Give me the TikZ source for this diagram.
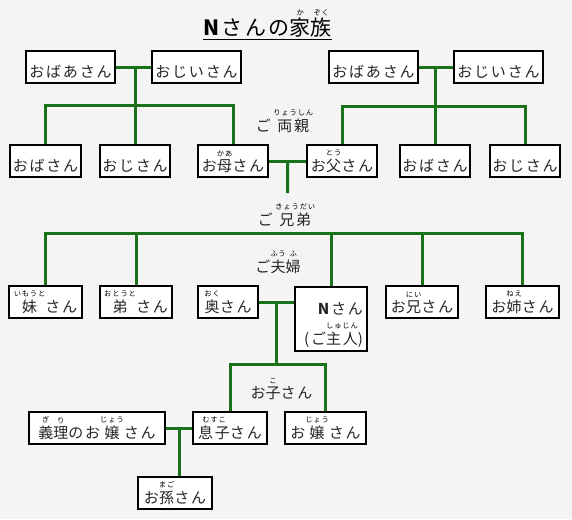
\documentclass[tikz,border=0pt]{standalone}
\usepackage{fontspec}
\usepackage{tikz}
\usetikzlibrary{calc}
\newfontfamily\jpfont{Noto Sans CJK JP}[LetterSpace=12]
\newcommand\boxfont{\jpfont\fontsize{15pt}{18pt}\selectfont}
\newcommand\titlefont{\jpfont\fontsize{21pt}{24pt}\selectfont}
\newcommand\rbfont{\fontsize{7.3pt}{8pt}\selectfont\color{black}}
\newcommand\rb[2]{\leavevmode\vbox{\offinterlineskip\halign{\hfil##\hfil\cr{\rbfont #2}\cr\noalign{\kern 2.5pt}#1\cr}}}
\definecolor{bgcol}{RGB}{244,244,244}
\definecolor{famgreen}{RGB}{26,115,26}
\tikzset{boxbase/.style = {draw, line width = 2.2pt, fill = white, inner sep = 0pt,
                           font = \boxfont, text = black!85},
         box/.style = {boxbase, minimum height = 32pt, text height = 23pt, text depth = 3pt},
         famlabel/.style = {inner sep = 0pt, font = \boxfont, text = black!85, anchor = base},
         famline/.style = {draw = famgreen, line width = 3pt}}

\begin{document}
\begin{tikzpicture}[x = 1pt, y = -1pt]
      \fill [bgcol] (0, 0) rectangle (572, 519);

      \node [anchor = base, inner sep = 0pt, font = \titlefont] (title) at (267.5, 36)
        {\textbf{N}さんの\rb{家}{か}\rb{族}{ぞく}};
      \draw [line width = 1.5pt] ([yshift = -3.5pt] title.base west) -- ([yshift = -3.5pt] title.base east);

      \node [box, minimum width = 89pt] (gmL) at (70.5, 67) {おばあさん};
      \node [box, minimum width = 89pt] (gpL) at (196.5, 67) {おじいさん};
      \node [box, minimum width = 89pt] (gmR) at (373.5, 67) {おばあさん};
      \node [box, minimum width = 89pt] (gpR) at (498.5, 67) {おじいさん};

      \node [box, minimum width = 71pt] (auntL) at (45.5, 161) {おばさん};
      \node [box, minimum width = 70pt] (uncleL) at (135, 161) {おじさん};
      \node [box, minimum width = 70pt] (mother) at (233, 161) {お\rb{母}{かあ}さん};
      \node [box, minimum width = 70pt] (father) at (342, 161) {お\rb{父}{とう}さん};
      \node [box, minimum width = 70pt] (auntR) at (435, 161) {おばさん};
      \node [box, minimum width = 70pt] (uncleR) at (525, 161) {おじさん};

      \node [famlabel] (parentsLbl) at (284.5, 131) {ご\,\rb{両親}{りょうしん}};
      \node [famlabel] (sibLbl) at (286.5, 225) {ご\,\rb{兄弟}{きょうだい}};
      \node [famlabel] (coupleLbl) at (278, 272) {ご\rb{夫}{ふう}\rb{婦}{ふ}};
      \node [famlabel] (childLbl) at (281.5, 398) {お\rb{子}{こ}さん};

      \node [box, minimum width = 73pt] (sister) at (45.5, 302) {\rb{妹}{いもうと}さん};
      \node [box, minimum width = 72pt] (brother) at (136, 302) {\rb{弟}{おとうと}さん};
      \node [box, minimum width = 60pt] (wife) at (228, 302) {\rb{奥}{おく}さん};
      \node [boxbase, minimum width = 72pt, minimum height = 64pt, inner xsep = 4pt,
             text width = 64pt, align = right] (N) at (331, 319)
        {\rule{0pt}{23pt}\textbf{N}さん\\[7pt](ご\rb{主人}{しゅじん})};
      \node [box, minimum width = 72pt] (eBrother) at (422, 302) {お\rb{兄}{にい}さん};
      \node [box, minimum width = 73pt] (eSister) at (522.5, 302) {お\rb{姉}{ねえ}さん};

      \node [box, minimum width = 136pt] (inlaw) at (97, 428) {\rb{義}{ぎ}\rb{理}{り}のお\rb{嬢}{じょう}さん};
      \node [box, minimum width = 74pt] (son) at (230, 428) {\rb{息子}{むすこ}さん};
      \node [box, minimum width = 81pt] (daughter) at (325.5, 428) {お\rb{嬢}{じょう}さん};
      \node [box, minimum width = 74pt] (grand) at (175, 493) {お\rb{孫}{まご}さん};

      \coordinate (barL) at (0, 105);
      \coordinate (barR) at (0, 106);
      \coordinate (barS) at (0, 233);
      \coordinate (barC) at (0, 364);
      \coordinate (pj) at ($(mother.east)!.5!(father.west)$);
      \coordinate (sibEnd) at (287.5, 193);
      \coordinate (wN) at (wife.east -| N.west);
      \coordinate (wj) at ($(wife.east)!.5!(wN)$);
      \coordinate (sj) at ($(inlaw.east)!.5!(son.west)$);

      \draw [famline] (gmL) -- (gpL);
      \draw [famline] (uncleL.north) -- (uncleL.north |- gmL.east);
      \draw [famline] (auntL.north) |- (barL -| mother.north) -- (mother.north);

      \draw [famline] (gmR) -- (gpR);
      \draw [famline] (auntR.north) -- (auntR.north |- gmR.east);
      \draw [famline] (father.north) |- (barR -| uncleR.north) -- (uncleR.north);

      \draw [famline] (mother) -- (father);
      \draw [famline] (pj) -- (sibEnd);

      \draw [famline] (sister.north) |- (barS -| eSister.north) -- (eSister.north);
      \draw [famline] (brother.north) -- (brother.north |- barS);
      \draw [famline] (N.north) -- (N.north |- barS);
      \draw [famline] (eBrother.north) -- (eBrother.north |- barS);

      \draw [famline] (wife.east) -- (wN);
      \draw [famline] (wj) -- (wj |- barC);
      \draw [famline] (son.north) |- (barC -| daughter.north) -- (daughter.north);

      \draw [famline] (inlaw) -- (son);
      \draw [famline] (sj) -- (sj |- grand.north);

    \end{tikzpicture}
\end{document}
